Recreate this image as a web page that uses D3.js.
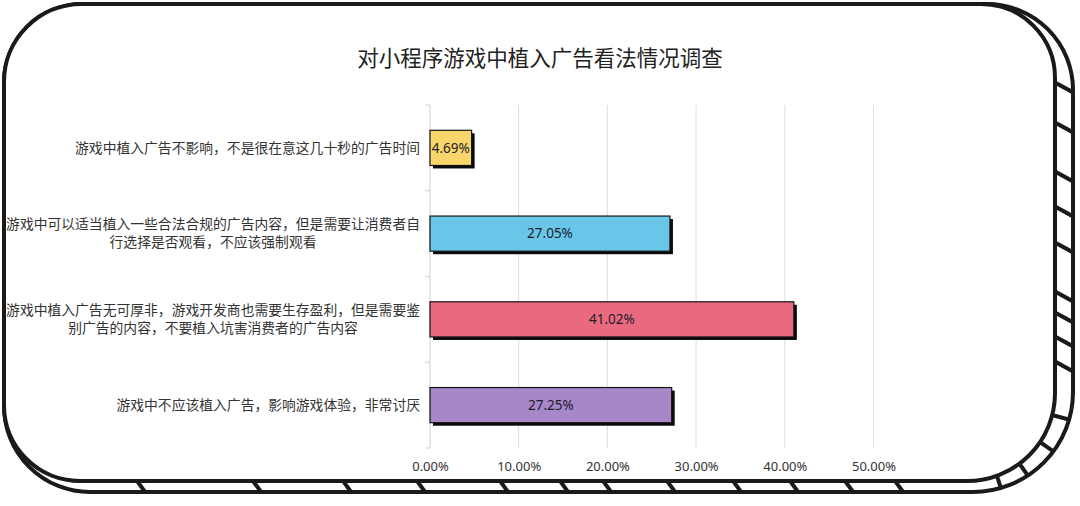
<!DOCTYPE html>
<html><head><meta charset="utf-8">
<script src="https://cdn.jsdelivr.net/npm/d3@7"></script>
<style>body{margin:0;background:#fff;overflow:hidden}</style>
</head><body><svg id="c" width="1080" height="506"></svg>
<script>
const title = "对小程序游戏中植入广告看法情况调查";
const categories = [
  "游戏中植入广告不影响，不是很在意这几十秒的广告时间",
  "游戏中可以适当植入一些合法合规的广告内容，但是需要让消费者自\n行选择是否观看，不应该强制观看",
  "游戏中植入广告无可厚非，游戏开发商也需要生存盈利，但是需要鉴\n别广告的内容，不要植入坑害消费者的广告内容",
  "游戏中不应该植入广告，影响游戏体验，非常讨厌"
];
const values = [4.69, 27.05, 41.02, 27.25];
const colors = ["#F9D66B", "#6AC6E9", "#E9697F", "#A887C9"];
const xTicks = [0, 10, 20, 30, 40, 50];
const rightHatchY = [83, 123, 172, 207, 243, 292, 313, 337, 362];
const bottomHatchX = [137, 253, 343, 417, 500, 560, 603, 667, 733, 790, 845, 895];
const cornerHatchAngles = [15, 35, 55, 72];

const svg = d3.select("#c");
const ink = "#1a1a1a";

function rrect(x0, y0, x1, y1, tl, tr, br, bl) {
  return `M${x0 + tl},${y0} L${x1 - tr},${y0} A${tr},${tr} 0 0 1 ${x1},${y0 + tr}` +
    ` L${x1},${y1 - br} A${br},${br} 0 0 1 ${x1 - br},${y1}` +
    ` L${x0 + bl},${y1} A${bl},${bl} 0 0 1 ${x0},${y1 - bl}` +
    ` L${x0},${y0 + tl} A${tl},${tl} 0 0 1 ${x0 + tl},${y0} Z`;
}
const backPath = rrect(4, 4, 1073, 492, 78, 86, 100, 86);
const frontPath = rrect(4, 4, 1055, 481, 78, 74, 88, 76);

const defs = svg.append("defs");
defs.append("clipPath").attr("id", "band")
  .append("path").attr("d", backPath + " " + frontPath).attr("clip-rule", "evenodd");

svg.append("path").attr("d", backPath).attr("fill", "#fff").attr("stroke", ink).attr("stroke-width", 4);
const hatch = svg.append("g").attr("clip-path", "url(#band)").attr("stroke", ink).attr("stroke-width", 4);
hatch.selectAll("line.r").data(rightHatchY).join("line")
  .attr("x1", 1045).attr("y1", d => d - 6).attr("x2", 1085).attr("y2", d => d + 16);
hatch.selectAll("line.b").data(bottomHatchX).join("line")
  .attr("x1", d => d - 8).attr("y1", 470).attr("x2", d => d + 14).attr("y2", 500);
hatch.selectAll("line.c").data(cornerHatchAngles).join("line")
  .attr("x1", 970).attr("y1", 393)
  .attr("x2", a => 970 + 140 * Math.cos(a * Math.PI / 180))
  .attr("y2", a => 393 + 140 * Math.sin(a * Math.PI / 180));
svg.append("path").attr("d", frontPath).attr("fill", "#fff").attr("stroke", ink).attr("stroke-width", 4);

// title
svg.append("text").attr("x", 540).attr("y", 58).attr("dy", "0.35em")
  .attr("text-anchor", "middle").attr("font-family", "'Noto Sans CJK SC', sans-serif")
  .attr("font-size", 21.5).attr("fill", "#222").text(title);

// scales
const x = d3.scaleLinear().domain([0, 50]).range([430, 873.5]);
const y = d3.scaleBand().domain(d3.range(categories.length)).range([105, 448])
  .paddingInner(0.59).paddingOuter(0.295);
const step = y.step();

// gridlines
svg.append("g").selectAll("line").data(xTicks.filter(t => t > 0)).join("line")
  .attr("x1", d => x(d)).attr("x2", d => x(d)).attr("y1", 105).attr("y2", 448)
  .attr("stroke", "#dedede").attr("stroke-width", 1);

// x axis labels
const xAxis = d3.axisBottom(x).tickValues(xTicks).tickSize(0).tickPadding(0)
  .tickFormat(d => d.toFixed(2) + "%");
const gx = svg.append("g").attr("transform", "translate(0,466)").call(xAxis);
gx.select(".domain").remove();
gx.selectAll("text").attr("font-family", "'Noto Sans', sans-serif").attr("font-size", 13)
  .attr("fill", "#333").attr("dy", "0.35em");

// y axis line + ticks
svg.append("line").attr("x1", x(0)).attr("x2", x(0)).attr("y1", 105).attr("y2", 448)
  .attr("stroke", "#cfcfcf");
const bounds = d3.range(categories.length + 1).map(i => 105 + i * step);
svg.append("g").selectAll("line").data(bounds).join("line")
  .attr("x1", x(0) - 5).attr("x2", x(0)).attr("y1", d => d).attr("y2", d => d)
  .attr("stroke", "#cfcfcf");

// category labels
const lab = svg.append("g").attr("font-family", "'Noto Sans CJK SC', sans-serif")
  .attr("font-size", 13.8).attr("fill", "#333");
categories.forEach((c, i) => {
  const lines = c.split("\n");
  const cy = y(i) + y.bandwidth() / 2;
  const lh = 18;
  const t = lab.append("text").attr("text-anchor", "middle");
  lines.forEach((l, j) => {
    t.append("tspan").attr("y", cy + (j - (lines.length - 1) / 2) * lh).attr("dy", "0.35em").text(l);
  });
  let maxW = 0;
  t.selectAll("tspan").each(function () { maxW = Math.max(maxW, this.getComputedTextLength()); });
  t.selectAll("tspan").attr("x", 420 - maxW / 2);
});

// bars
const bars = svg.append("g");
bars.selectAll("rect.sh").data(values).join("rect").attr("class", "sh")
  .attr("x", x(0) + 3).attr("y", (d, i) => y(i) + 3)
  .attr("width", d => x(d) - x(0)).attr("height", y.bandwidth()).attr("fill", "#0a0a0a");
bars.selectAll("rect.bar").data(values).join("rect").attr("class", "bar")
  .attr("x", x(0)).attr("y", (d, i) => y(i))
  .attr("width", d => x(d) - x(0)).attr("height", y.bandwidth())
  .attr("fill", (d, i) => colors[i]).attr("stroke", "#151515").attr("stroke-width", 1.2);
bars.selectAll("text").data(values).join("text")
  .attr("x", d => (x(0) + x(d)) / 2).attr("y", (d, i) => y(i) + y.bandwidth() / 2)
  .attr("dy", "0.35em").attr("text-anchor", "middle")
  .attr("font-family", "'Noto Sans', sans-serif").attr("font-size", 13.5).attr("fill", "#1c1c2a")
  .text(d => d.toFixed(2) + "%");
</script></body></html>
